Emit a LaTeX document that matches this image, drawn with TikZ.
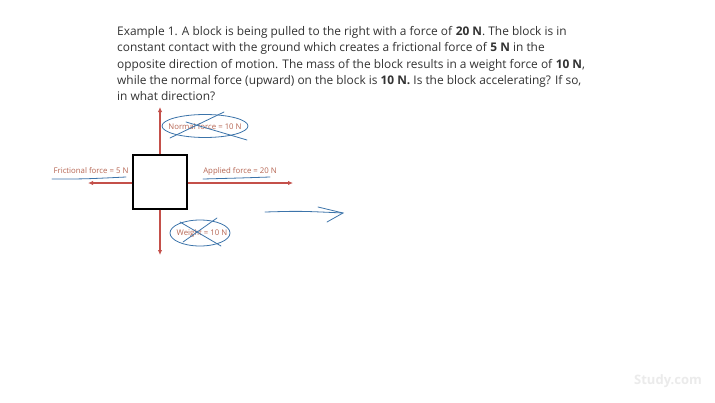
\documentclass[tikz,border=0pt]{standalone}
\usepackage{fontspec}
\setmainfont{Open Sans}
\usetikzlibrary{arrows.meta}
\definecolor{forcered}{HTML}{C4504A}
\definecolor{labelred}{HTML}{B66552}
\definecolor{penblue}{HTML}{3C74AA}
\definecolor{inkgray}{HTML}{333333}

\begin{document}
\begin{tikzpicture}[x=1pt,y=-1pt,
		force/.style={forcered,line width=1.3pt,-{Latex[length=5pt,width=4.5pt]}},
		flabel/.style={labelred,font=\fontsize{7.8}{9}\selectfont,inner sep=0pt},
		pen/.style={penblue,line width=0.8pt,line cap=round}]
			\useasboundingbox[fill=white] (0,0) rectangle (715,402);
			\node[anchor=north west,align=left,inner sep=0pt,inkgray,
				font=\fontsize{11.9}{16.4}\selectfont] (problem) at (117,26)
				{Example 1. A block is being pulled to the right with a force of \textbf{20 N}. The block is in\\
				constant contact with the ground which creates a frictional force of \textbf{5 N} in the\\
				opposite direction of motion. The mass of the block results in a weight force of \textbf{10 N},\\
				while the normal force (upward) on the block is \textbf{10 N.} Is the block accelerating? If so,\\
				in what direction?};
			\node[draw,line width=1.3pt,minimum size=54pt,inner sep=0pt] (box) at (160,182) {};
			\coordinate (nTip) at (160,107);
			\coordinate (wTip) at (160,255);
			\coordinate (fTip) at (88,183);
			\coordinate (aTip) at (293,183);
			\draw[force] (box.north) -- (nTip);
			\draw[force] (box.south) -- (wTip);
			\draw[force] (box.west |- fTip) -- (fTip);
			\draw[force] (box.east |- aTip) -- (aTip);
			\node[flabel] (normal) at (205,127) {Normal force = 10 N};
			\node[flabel] (weight) at (202,233) {Weight = 10 N};
			\node[flabel] (friction) at (91,171) {Frictional force = 5 N};
			\node[flabel] (applied) at (240,171) {Applied force = 20 N};
			% pen marks
			\draw[pen] (205,126) ellipse [x radius=43,y radius=11.5];
			\draw[pen] (170,138) -- (224,112);
			\draw[pen] (186,122) -- (247,140);
			\draw[pen] (200,233) ellipse [x radius=30,y radius=13];
			\draw[pen] (180,222) -- (221,246);
			\draw[pen] (183,242) -- (217,218);
			\draw[pen] (52,179) .. controls (85,179) .. (126,177);
			\draw[pen] (203,179) .. controls (240,178) .. (270,177);
			\coordinate (sTail) at (265,212);
			\coordinate (sTip) at (343,213);
			\draw[pen] (sTail) .. controls (300,211) .. (sTip);
			\draw[pen] (318,207) -- (sTip) -- (327,222);
			\node[text=black!8,font=\fontsize{13}{15}\selectfont\bfseries] (logo) at (668,381) {Study.com};
\end{tikzpicture}
\end{document}
